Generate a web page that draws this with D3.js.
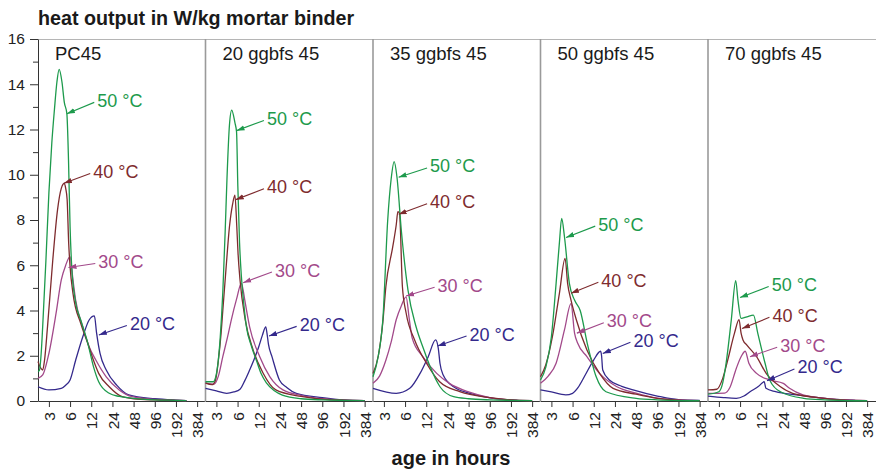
<!DOCTYPE html>
<head>
  <meta charset="utf-8">
  <script src="https://d3js.org/d3.v7.min.js"></script>
  <style>
    body { margin:0; background:white; }
    text { font-family: 'Liberation Sans', Arial, sans-serif; }
    .title { font-weight: bold; font-size: 19.7px; fill: #1a1a1a; }
    .axisTitle { font-weight: bold; font-size: 20px; fill: #1a1a1a; }
    .panelName { font-size: 18.5px; fill: #1a1a1a; }
    .tempLabel { font-size: 18px; }
    .axis text { font-size: 15.5px; fill: #222; font-family: 'Liberation Sans', Arial, sans-serif; }
    .axis path, .axis line { stroke: #333; }
  </style>
</head>
<body>
<script>
// panel names and temperatures
const panelNames = ['PC45', '20 ggbfs 45', '35 ggbfs 45', '50 ggbfs 45', '70 ggbfs 45'];
const temps = ['50 °C', '40 °C', '30 °C', '20 °C'];
const tempColors = ['#1d9a4c', '#7e2b2e', '#a2498a', '#34298c'];
const hourTicks = [3, 6, 12, 24, 48, 96, 192, 384];

// curves per panel, [hours, W/kg], order 50, 40, 30, 20 °C
const pc45 = [
  [[2.1,1.3],[2.2,1.35],[2.33,2.1],[2.45,3.3],[2.72,6.2],[3.0,9.2],[3.3,11.4],[3.6,12.9],[3.9,14.1],[4.2,14.66],[4.6,14.1],[4.97,13.2],[5.4,12.7],[5.7,10.65],[6.0,7.7],[6.34,5.9],[7.1,4.46],[8.5,3.58],[10.7,2.56],[12.9,1.52],[15.3,0.85],[21.6,0.34],[30,0.2],[48,0.12],[96,0.05],[192,0.03],[270,0.02]],
  [[2.1,1.74],[2.3,1.45],[2.45,1.37],[2.6,1.8],[2.87,3.3],[3.4,6.2],[3.98,8.45],[4.5,9.4],[4.97,9.62],[5.2,9.4],[5.45,8.9],[5.73,7.0],[6.0,5.94],[6.6,4.76],[8.5,3.43],[10.7,2.55],[12.9,1.8],[15.3,1.22],[21.6,0.63],[33,0.19],[48,0.1],[96,0.05],[192,0.03],[270,0.02]],
  [[2.1,1.0],[2.45,1.15],[3.0,2.1],[3.79,3.87],[4.5,5.35],[5.2,6.0],[6.0,6.38],[6.6,5.35],[7.2,4.46],[9.1,3.28],[11.2,2.4],[14,1.8],[19.6,1.07],[30,0.49],[46,0.19],[96,0.07],[192,0.03],[270,0.02]],
  [[2.1,0.63],[3.0,0.49],[4.5,0.56],[5.2,0.7],[6.0,0.93],[7.2,1.8],[9.1,2.84],[11.2,3.58],[13.3,3.76],[14.3,3.0],[16,2.1],[19.6,1.37],[27.6,0.7],[41,0.27],[96,0.1],[192,0.04],[270,0.02]]
];
const ggbfs20 = [
  [[2.1,0.85],[2.7,0.85],[3.0,1.2],[3.4,2.8],[3.7,4.8],[4.0,7.5],[4.25,9.9],[4.6,12.2],[4.95,12.86],[5.5,12.3],[5.8,11.9],[6.05,9.5],[6.4,7.0],[6.8,5.5],[7.4,4.2],[8.0,3.3],[9.5,2.4],[11.1,1.8],[13,1.2],[15.4,0.8],[20,0.45],[26,0.26],[48,0.1],[96,0.05],[192,0.03],[384,0.02]],
  [[2.1,0.8],[2.6,0.72],[2.9,0.9],[3.2,1.8],[3.5,3.0],[3.7,4.0],[4.1,5.8],[4.6,7.7],[5.1,8.7],[5.5,9.1],[5.85,7.7],[6.1,6.5],[6.5,5.35],[7.7,3.6],[10,2.25],[13.8,1.24],[21,0.49],[48,0.2],[96,0.08],[192,0.04],[384,0.02]],
  [[2.1,0.78],[2.8,0.75],[3.2,1.1],[3.7,1.96],[4.3,2.8],[4.9,3.6],[5.8,4.5],[6.8,5.2],[7.2,4.9],[7.6,4.46],[8.9,3.28],[12.4,1.96],[17.3,1.07],[26.5,0.49],[48,0.25],[96,0.1],[192,0.04],[384,0.02]],
  [[2.1,0.56],[3,0.45],[4.2,0.34],[5.3,0.4],[6.5,0.52],[7.6,0.9],[8.9,1.37],[10.5,1.9],[12,2.4],[13.5,2.9],[15.1,3.28],[15.7,3.0],[16.5,2.5],[18.5,1.96],[23.6,0.93],[30,0.6],[41,0.34],[96,0.15],[192,0.05],[384,0.02]]
];
const ggbfs35 = [
  [[2.1,1.07],[2.5,2.0],[2.9,3.6],[3.4,8.0],[3.8,9.8],[4.2,10.58],[4.6,9.9],[5.3,7.56],[6.6,4.9],[8.6,3.28],[11,2.3],[13.6,1.52],[18.8,0.63],[29.4,0.19],[48,0.1],[96,0.05],[192,0.03],[384,0.02]],
  [[2.1,1.22],[2.5,2.0],[2.9,3.5],[3.2,5.05],[4.0,6.8],[4.5,7.8],[4.74,8.37],[5.0,8.3],[5.5,5.05],[6.2,3.9],[8.2,2.7],[12.1,1.67],[18.6,0.85],[36,0.41],[96,0.15],[192,0.05],[384,0.02]],
  [[2.1,0.78],[2.6,1.1],[3.2,1.8],[3.8,2.6],[4.5,3.6],[5.3,4.2],[6.2,4.6],[6.9,3.6],[7.6,2.77],[10.7,1.96],[16.9,1.22],[25.6,0.78],[48,0.4],[96,0.15],[192,0.05],[384,0.02]],
  [[2.1,0.56],[4.5,0.34],[7.0,0.56],[9.8,1.22],[12.8,1.96],[16.3,2.7],[17.8,2.33],[18.8,1.67],[20.9,1.15],[29.4,0.63],[50,0.34],[108,0.12],[238,0.03]]
];
const ggbfs50 = [
  [[2.1,0.93],[2.5,1.5],[3.0,2.84],[3.5,5.2],[3.9,7.0],[4.2,8.07],[4.6,7.26],[5.4,5.2],[6.4,4.46],[7.7,4.0],[9.7,2.55],[13,1.07],[17.9,0.41],[48,0.12],[96,0.05],[192,0.02],[384,0.01]],
  [[2.1,1.07],[2.5,1.6],[3.1,2.84],[3.9,4.76],[4.7,6.3],[5.1,5.2],[5.7,4.46],[6.8,3.58],[9.6,2.25],[14.5,1.22],[22.6,0.56],[48,0.3],[96,0.12],[192,0.04],[384,0.02]],
  [[2.1,0.78],[2.7,1.1],[3.5,1.67],[4.6,3.14],[5.7,4.3],[6.4,3.0],[7.1,2.55],[9.6,1.96],[14.5,1.22],[25.6,0.63],[48,0.35],[96,0.13],[192,0.05],[384,0.02]],
  [[2.1,0.49],[3,0.4],[4.8,0.27],[6,0.34],[7.2,0.6],[8.8,1.07],[11.9,1.8],[15,2.2],[15.5,2.0],[16.1,1.37],[20,0.93],[30,0.65],[43.4,0.49],[96,0.22],[192,0.06],[384,0.03]]
];
const ggbfs70 = [
  [[2.1,0.3],[3.0,0.41],[3.4,0.8],[3.8,1.67],[4.5,3.58],[5.2,5.32],[5.6,4.46],[6.2,3.65],[7.5,3.72],[9.3,3.8],[10.7,3.0],[13.6,1.67],[15.8,0.93],[22.5,0.41],[48,0.12],[96,0.05],[192,0.02],[384,0.01]],
  [[2.1,0.49],[2.8,0.52],[3.4,1.0],[4.0,1.8],[5.0,3.0],[5.8,3.6],[6.2,3.0],[6.6,2.7],[7.5,2.47],[10.3,1.96],[14.1,1.22],[22.5,0.63],[33.6,0.34],[96,0.12],[192,0.04],[384,0.02]],
  [[2.1,0.34],[3.6,0.35],[4.3,0.6],[5.3,1.44],[6.3,2.0],[7.1,2.2],[8.0,1.67],[10.3,1.22],[15.8,0.93],[24.7,0.78],[30.3,0.56],[47,0.27],[96,0.12],[192,0.05],[384,0.02]],
  [[2.1,0.22],[3.5,0.15],[5.3,0.12],[6.8,0.22],[8.3,0.41],[11,0.65],[13.2,0.85],[14,0.56],[19.2,0.41],[38,0.27],[96,0.12],[192,0.05],[260,0.03]]
];

// label anchors in data units: [text hours, text value, arrow tip hours, arrow tip value]
const labelsPc45 = [[14.6,13.0,5.4,12.7],[12.8,9.86,4.9,9.62],[15.1,5.88,5.7,5.9],[42.5,3.14,15.4,2.92]];
const labels20 = [[15.7,12.2,5.8,11.95],[15.7,9.18,5.65,8.9],[20.4,5.5,7.2,5.23],[45.8,3.1,16.8,2.87]];
const labels35 = [[13.6,10.1,4.86,9.89],[13.6,8.52,4.86,8.25],[17.4,4.83,6.2,4.64],[49.5,2.67,17.4,2.43]];
const labels50 = [[13.9,7.53,4.85,7.23],[15.4,5.05,5.7,4.76],[18.4,3.26,6.9,3.0],[44,2.4,16.1,2.1]];
const labels70 = [[16.9,4.86,6.0,4.57],[17.3,3.5,6.4,3.2],[22.3,2.18,8.3,1.96],[39.2,1.22,14.5,0.9]];

const curves = [pc45, ggbfs20, ggbfs35, ggbfs50, ggbfs70];
const labels = [labelsPc45, labels20, labels35, labels50, labels70];

const W = 876, H = 476;
const plotLeft = 38, plotTop = 39, plotBottom = 401;
const panelW = (W - plotLeft - 0.5) / 5;

const svg = d3.select('body').append('svg')
  .attr('width', W).attr('height', H);

// arrow heads, one per colour
const defs = svg.append('defs');
tempColors.forEach((c, i) => {
  defs.append('marker')
    .attr('id', 'arr' + i)
    .attr('viewBox', '0 -3 8 6')
    .attr('refX', 8).attr('refY', 0)
    .attr('markerUnits', 'userSpaceOnUse')
    .attr('markerWidth', 8).attr('markerHeight', 6)
    .attr('orient', 'auto')
    .append('path')
    .attr('d', 'M0,-2.6L8,0L0,2.6Z')
    .attr('fill', c);
});

const y = d3.scaleLinear().domain([0, 16]).range([plotBottom, plotTop]);

// top frame line
svg.append('line')
  .attr('x1', plotLeft).attr('x2', W).attr('y1', plotTop + 0.5).attr('y2', plotTop + 0.5)
  .attr('stroke', '#b5b5b5').attr('stroke-width', 1.2);

// y axis with major and minor ticks
svg.append('g').attr('class', 'axis')
  .attr('transform', `translate(${plotLeft},0)`)
  .call(d3.axisLeft(y).tickValues(d3.range(1, 16, 2)).tickSize(5).tickFormat(''))
  .call(g => g.select('.domain').remove());
svg.append('g').attr('class', 'axis')
  .attr('transform', `translate(${plotLeft},0)`)
  .call(d3.axisLeft(y).tickValues(d3.range(0, 17, 2)).tickSize(8).tickSizeOuter(0).tickPadding(5));

panelNames.forEach((name, p) => {
  const g = svg.append('g').attr('transform', `translate(${plotLeft + p * panelW},0)`);
  const x = d3.scaleLog().domain([2.1, 505]).range([0, panelW]);

  if (p > 0) {
    g.append('line')
      .attr('x1', 0).attr('x2', 0).attr('y1', plotTop).attr('y2', plotBottom + 1)
      .attr('stroke', '#9a9a9a').attr('stroke-width', 1.6);
  }

  // x axis
  const ax = g.append('g').attr('class', 'axis')
    .attr('transform', `translate(0,${plotBottom})`)
    .call(d3.axisBottom(x).tickValues(hourTicks).tickFormat(d3.format('d')).tickSize(6).tickSizeOuter(0));
  ax.selectAll('text')
    .attr('transform', 'rotate(-90)')
    .attr('x', -11).attr('y', 0).attr('dy', '0.36em')
    .style('text-anchor', 'end');

  const line = d3.line()
    .x(d => x(d[0]))
    .y(d => y(d[1]))
    .curve(d3.curveMonotoneX);

  // draw 20 first so 50 sits on top
  d3.range(3, -1, -1).forEach(s => {
    g.append('path')
      .datum(curves[p][s])
      .attr('d', line)
      .attr('fill', 'none')
      .attr('stroke', tempColors[s])
      .attr('stroke-width', 1.3);
  });

  labels[p].forEach((l, s) => {
    const tx = x(l[0]), ty = y(l[1]);
    g.append('line')
      .attr('x1', tx - 3).attr('y1', ty - 4.5)
      .attr('x2', x(l[2])).attr('y2', y(l[3]))
      .attr('stroke', tempColors[s]).attr('stroke-width', 1.1)
      .attr('marker-end', `url(#arr${s})`);
    g.append('text')
      .attr('class', 'tempLabel')
      .attr('x', tx).attr('y', ty)
      .attr('fill', tempColors[s])
      .text(temps[s]);
  });

  g.append('text')
    .attr('class', 'panelName')
    .attr('x', 17).attr('y', 59.5)
    .text(name);
});

svg.append('text')
  .attr('class', 'title')
  .attr('x', plotLeft).attr('y', 25)
  .text('heat output in W/kg mortar binder');

svg.append('text')
  .attr('class', 'axisTitle')
  .attr('x', 451).attr('y', 465)
  .attr('text-anchor', 'middle')
  .text('age in hours');
</script>
</body>
